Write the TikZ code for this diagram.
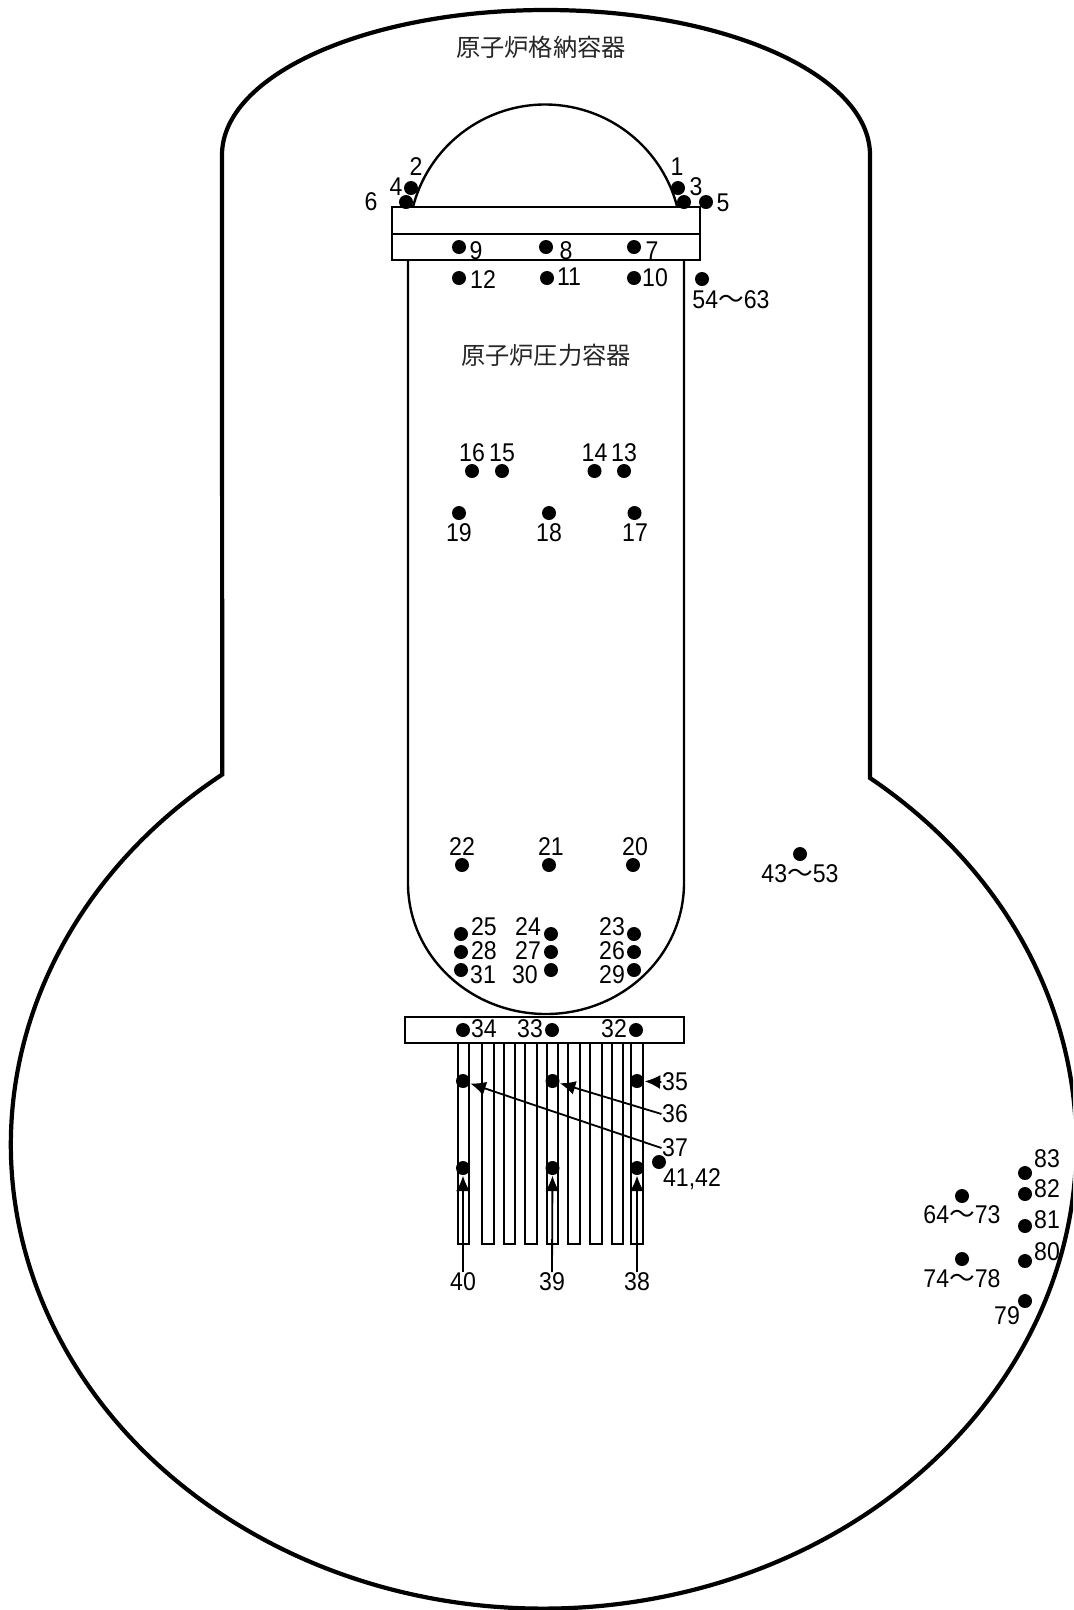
\documentclass[tikz,border=0pt]{standalone}
\usepackage{fontspec}
\usetikzlibrary{arrows.meta}
\setmainfont{Liberation Sans}[FakeStretch=0.9]
\newfontfamily\cjk{Noto Sans CJK JP}
\newcommand{\wv}{{\cjk ～}}
\tikzset{
	gauge/.style={circle, fill=black, inner sep=0pt, minimum size=0.14cm},
	num/.style={inner sep=0pt, font=\fontsize{7.3}{8}\selectfont},
	title/.style={inner sep=0pt, font=\fontsize{6.9}{8}\selectfont\cjk, text=black!85},
	shell/.style={line width=1.2pt},
	vessel/.style={line width=0.68pt},
	lead/.style={-{Latex[length=0.155cm,width=0.14cm]}, line width=0.52pt}
}

\begin{document}
\begin{tikzpicture}[x=1cm,y=-1cm]
	\clip (0,0) rectangle (10.73,16.10);

	% containment
	\draw [shell] (2.22,1.55) arc [start angle=-180, end angle=0, x radius=3.24, y radius=1.45]
		-- (8.70,7.78) arc [start angle=-52.2, end angle=232.9, x radius=5.327, y radius=4.64]
		-- cycle;

	% pressure vessel
	\draw [vessel] (4.13,2.07) arc [start angle=-165.6, end angle=-14.4, radius=1.364];
	\draw [vessel] (3.92,2.07) rectangle (7.00,2.60);
	\draw [vessel] (3.92,2.34) to (7.00,2.34);
	\draw [vessel] (4.08,2.60) -- (4.08,8.83) arc [start angle=180, end angle=0, x radius=1.38, y radius=1.31] -- (6.84,2.60);

	% lower plate and tubes
	\draw [vessel] (4.05,10.17) rectangle (6.84,10.43);
	\draw [vessel] (4.58,10.43) rectangle (4.69,12.44);
	\draw [vessel] (4.82,10.43) rectangle (4.94,12.44);
	\draw [vessel] (5.04,10.43) rectangle (5.15,12.44);
	\draw [vessel] (5.25,10.43) rectangle (5.37,12.44);
	\draw [vessel] (5.47,10.43) rectangle (5.58,12.44);
	\draw [vessel] (5.68,10.43) rectangle (5.80,12.44);
	\draw [vessel] (5.90,10.43) rectangle (6.02,12.44);
	\draw [vessel] (6.12,10.43) rectangle (6.23,12.44);
	\draw [vessel] (6.31,10.43) rectangle (6.43,12.44);

	\node (T1) [title] at (5.41,0.47) {原子炉格納容器};
	\node (T2) [title] at (5.46,3.55) {原子炉圧力容器};

	\node (d1) [gauge] at (6.78,1.88) {};
	\node (d2) [gauge] at (4.11,1.88) {};
	\node (d3) [gauge] at (6.84,2.02) {};
	\node (d4) [gauge] at (4.06,2.02) {};
	\node (d5) [gauge] at (7.06,2.02) {};
	\node (d7) [gauge] at (6.34,2.47) {};
	\node (d8) [gauge] at (5.46,2.47) {};
	\node (d9) [gauge] at (4.59,2.47) {};
	\node (d10) [gauge] at (6.34,2.78) {};
	\node (d11) [gauge] at (5.47,2.78) {};
	\node (d12) [gauge] at (4.59,2.78) {};
	\node (d54) [gauge] at (7.02,2.79) {};
	\node (d13) [gauge] at (6.24,4.71) {};
	\node (d14) [gauge] at (5.945,4.71) {};
	\node (d15) [gauge] at (5.02,4.71) {};
	\node (d16) [gauge] at (4.72,4.71) {};
	\node (d17) [gauge] at (6.345,5.13) {};
	\node (d18) [gauge] at (5.49,5.13) {};
	\node (d19) [gauge] at (4.59,5.13) {};
	\node (d20) [gauge] at (6.33,8.65) {};
	\node (d21) [gauge] at (5.49,8.65) {};
	\node (d22) [gauge] at (4.62,8.65) {};
	\node (d23) [gauge] at (6.34,9.34) {};
	\node (d24) [gauge] at (5.51,9.34) {};
	\node (d25) [gauge] at (4.61,9.34) {};
	\node (d26) [gauge] at (6.34,9.52) {};
	\node (d27) [gauge] at (5.51,9.52) {};
	\node (d28) [gauge] at (4.61,9.52) {};
	\node (d29) [gauge] at (6.34,9.70) {};
	\node (d30) [gauge] at (5.51,9.70) {};
	\node (d31) [gauge] at (4.61,9.70) {};
	\node (d32) [gauge] at (6.36,10.30) {};
	\node (d33) [gauge] at (5.52,10.30) {};
	\node (d34) [gauge] at (4.63,10.30) {};
	\node (d35) [gauge] at (6.37,10.81) {};
	\node (d36) [gauge] at (5.525,10.81) {};
	\node (d37) [gauge] at (4.63,10.81) {};
	\node (d38) [gauge] at (6.37,11.68) {};
	\node (d39) [gauge] at (5.525,11.68) {};
	\node (d40) [gauge] at (4.63,11.68) {};
	\node (d41) [gauge] at (6.59,11.62) {};
	\node (d43) [gauge] at (8.00,8.54) {};
	\node (d64) [gauge] at (9.62,11.96) {};
	\node (d74) [gauge] at (9.62,12.59) {};
	\node (d79) [gauge] at (10.25,13.01) {};
	\node (d80) [gauge] at (10.25,12.61) {};
	\node (d81) [gauge] at (10.25,12.26) {};
	\node (d82) [gauge] at (10.25,11.94) {};
	\node (d83) [gauge] at (10.25,11.73) {};

	\node (L1) [num] at (6.77,1.67) {1};
	\node (L2) [num] at (4.16,1.67) {2};
	\node (L3) [num] at (6.96,1.87) {3};
	\node (L4) [num] at (3.96,1.87) {4};
	\node (L5) [num] at (7.23,2.03) {5};
	\node (L6) [num] at (3.71,2.02) {6};
	\node (L7) [num] at (6.52,2.51) {7};
	\node (L8) [num] at (5.66,2.51) {8};
	\node (L9) [num] at (4.76,2.51) {9};
	\node (L10) [num] at (6.55,2.78) {10};
	\node (L11) [num] at (5.69,2.77) {11};
	\node (L12) [num] at (4.83,2.80) {12};
	\node (L54) [num] at (7.31,3.00) {54\wv63};
	\node (L13) [num] at (6.24,4.53) {13};
	\node (L14) [num] at (5.945,4.53) {14};
	\node (L15) [num] at (5.02,4.53) {15};
	\node (L16) [num] at (4.72,4.53) {16};
	\node (L17) [num] at (6.35,5.33) {17};
	\node (L18) [num] at (5.49,5.33) {18};
	\node (L19) [num] at (4.59,5.33) {19};
	\node (L20) [num] at (6.35,8.47) {20};
	\node (L21) [num] at (5.51,8.47) {21};
	\node (L22) [num] at (4.62,8.47) {22};
	\node (L23) [num] at (6.12,9.27) {23};
	\node (L24) [num] at (5.28,9.27) {24};
	\node (L25) [num] at (4.84,9.27) {25};
	\node (L26) [num] at (6.12,9.51) {26};
	\node (L27) [num] at (5.28,9.51) {27};
	\node (L28) [num] at (4.84,9.51) {28};
	\node (L29) [num] at (6.12,9.75) {29};
	\node (L30) [num] at (5.25,9.75) {30};
	\node (L31) [num] at (4.83,9.75) {31};
	\node (L32) [num] at (6.14,10.29) {32};
	\node (L33) [num] at (5.30,10.29) {33};
	\node (L34) [num] at (4.84,10.29) {34};
	\node (L35) [num] at (6.75,10.82) {35};
	\node (L36) [num] at (6.75,11.14) {36};
	\node (L37) [num] at (6.75,11.48) {37};
	\node (L38) [num] at (6.37,12.82) {38};
	\node (L39) [num] at (5.52,12.82) {39};
	\node (L40) [num] at (4.63,12.82) {40};
	\node (L41) [num] at (6.92,11.79) {41,42};
	\node (L43) [num] at (8.00,8.74) {43\wv53};
	\node (L64) [num] at (9.62,12.15) {64\wv73};
	\node (L74) [num] at (9.62,12.79) {74\wv78};
	\node (L79) [num] at (10.07,13.16) {79};
	\node (L80) [num] at (10.47,12.52) {80};
	\node (L81) [num] at (10.47,12.20) {81};
	\node (L82) [num] at (10.47,11.89) {82};
	\node (L83) [num] at (10.47,11.59) {83};

	\draw [lead] (L35.west) to (d35);
	\draw [lead] (L36.west) to (d36);
	\draw [lead] (L37.west) to (d37);
	\draw [lead] (L38.north) to (d38);
	\draw [lead] (L39.north) to (d39);
	\draw [lead] (L40.north) to (d40);
\end{tikzpicture}
\end{document}
